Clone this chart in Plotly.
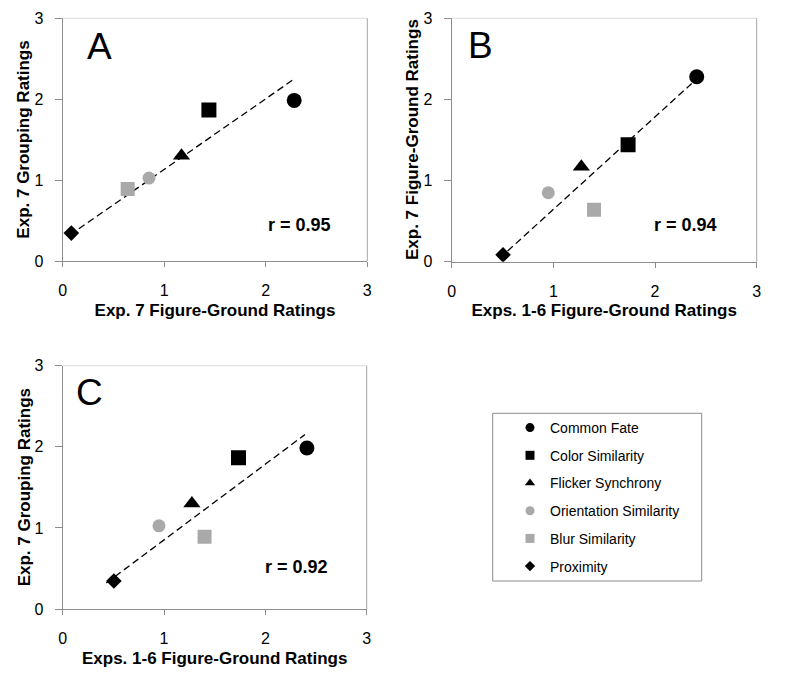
import plotly.graph_objects as go

# ---- data ----
categories = ["Common Fate", "Color Similarity", "Flicker Synchrony",
              "Orientation Similarity", "Blur Similarity", "Proximity"]
exp7_fg = [2.28, 1.44, 1.17, 0.85, 0.64, 0.085]          # Exp. 7 Figure-Ground Ratings
exps16_fg = [2.41, 1.735, 1.275, 0.95, 1.40, 0.505]      # Exps. 1-6 Figure-Ground Ratings
exp7_group = [1.985, 1.865, 1.30, 1.025, 0.89, 0.345]    # Exp. 7 Grouping Ratings

fit_a_x = [0.07, 2.28]
fit_a_y = [0.32, 2.25]
fit_b_x = [0.47, 2.39]
fit_b_y = [0.04, 2.23]
fit_c_x = [0.43, 2.39]
fit_c_y = [0.32, 2.15]

r_labels = ["r = 0.95", "r = 0.94", "r = 0.92"]
panel_labels = ["A", "B", "C"]
tick_vals = [0, 1, 2, 3]

# ---- styles ----
symbols = ["circle", "square", "triangle-up", "circle", "square", "diamond"]
colors = ["#000000", "#000000", "#000000", "#a9a9a9", "#a9a9a9", "#000000"]
sizes = [15, 15, 15, 13, 14, 12]
legend_sizes = [9, 9, 9, 9, 9, 8]
FONT = "Arial, Liberation Sans, sans-serif"
AX = "#8c8c8c"

# the page body adds an 8px margin; the figure is sized so that the
# final picture (800x680) lines up with the reference pixel positions
OFF = 8
W, H = 800 - OFF, 680 - OFF


def px_x(p):
    return (p - OFF) / W


def px_y(p):
    return 1 - (p - OFF) / H


fig = go.Figure()

panels = [
    ("x", "y", exp7_fg, exp7_group, fit_a_x, fit_a_y),
    ("x2", "y2", exps16_fg, exp7_fg, fit_b_x, fit_b_y),
    ("x3", "y3", exps16_fg, exp7_group, fit_c_x, fit_c_y),
]

for xa, ya, xs, ys, fx, fy in panels:
    fig.add_trace(go.Scatter(x=fx, y=fy, mode="lines", xaxis=xa, yaxis=ya,
                             line=dict(color="#000000", width=1.3, dash="7px,4px"),
                             showlegend=False, hoverinfo="skip"))
    for i, name in enumerate(categories):
        fig.add_trace(go.Scatter(x=[xs[i]], y=[ys[i]], mode="markers", xaxis=xa, yaxis=ya,
                                 name=name, showlegend=False,
                                 marker=dict(symbol=symbols[i], color=colors[i], size=sizes[i],
                                             line=dict(width=0))))

# legend entries
for i, name in enumerate(categories):
    fig.add_trace(go.Scatter(x=[None], y=[None], mode="markers", name=name,
                             legendgroup=name, showlegend=True,
                             marker=dict(symbol=symbols[i], color=colors[i], size=legend_sizes[i])))

domains = {
    "A": dict(x=[px_x(62.7), px_x(367.3)], y=[px_y(261), px_y(18.3)]),
    "B": dict(x=[px_x(451.7), px_x(756.7)], y=[px_y(261.7), px_y(18.3)]),
    "C": dict(x=[px_x(62.7), px_x(366.7)], y=[px_y(609), px_y(365.7)]),
}
titles = {
    "A": ("Exp. 7 Figure-Ground Ratings", "Exp. 7 Grouping Ratings"),
    "B": ("Exps. 1-6 Figure-Ground Ratings", "Exp. 7 Figure-Ground Ratings"),
    "C": ("Exps. 1-6 Figure-Ground Ratings", "Exp. 7 Grouping Ratings"),
}
ytitle_x = {"A": 24, "B": 413, "C": 24}
axis_names = {"A": ("xaxis", "yaxis", "y", "x"), "B": ("xaxis2", "yaxis2", "y2", "x2"),
              "C": ("xaxis3", "yaxis3", "y3", "x3")}

layout_axes = {}
annotations = []
for key in ["A", "B", "C"]:
    xn, yn, yanchor, xanchor = axis_names[key]
    xt, yt = titles[key]
    layout_axes[xn] = dict(
        domain=domains[key]["x"], anchor=yanchor, range=[0, 3], tickvals=tick_vals,
        showgrid=False, zeroline=False, showline=True, linecolor=AX, linewidth=1,
        ticks="outside", ticklen=5, tickcolor=AX, tickwidth=1, ticklabelstandoff=10,
        tickfont=dict(family=FONT, size=16, color="#000"),
        title=dict(text="<b>" + xt + "</b>", standoff=5,
                   font=dict(family=FONT, size=17, color="#000")),
        automargin=False, fixedrange=True)
    layout_axes[yn] = dict(
        domain=domains[key]["y"], anchor=xanchor, range=[0, 3], tickvals=tick_vals,
        showgrid=False, zeroline=False, showline=True, linecolor=AX, linewidth=1,
        ticks="outside", ticklen=7, tickcolor=AX, tickwidth=1, ticklabelstandoff=8,
        tickfont=dict(family=FONT, size=16, color="#000"),
        automargin=False, fixedrange=True)
    # y-axis title placed as rotated text at the reference position
    yd = domains[key]["y"]
    annotations.append(dict(x=px_x(ytitle_x[key]), y=(yd[0] + yd[1]) / 2, xref="paper",
                            yref="paper", text="<b>" + yt + "</b>", textangle=-90,
                            showarrow=False, xanchor="center", yanchor="middle",
                            font=dict(family=FONT, size=17, color="#000")))

shapes = []
for key, (xr, yr) in {"A": ("x", "y"), "B": ("x2", "y2"), "C": ("x3", "y3")}.items():
    # light top border and grey right border
    shapes.append(dict(type="line", xref=f"{xr} domain", yref=f"{yr} domain",
                       x0=0, x1=1, y0=1, y1=1, line=dict(color="#dcdcdc", width=1)))
    shapes.append(dict(type="line", xref=f"{xr} domain", yref=f"{yr} domain",
                       x0=1, x1=1, y0=0, y1=1, line=dict(color="#a6a6a6", width=1)))
# legend box
shapes.append(dict(type="rect", xref="paper", yref="paper",
                   x0=px_x(492.7), x1=px_x(701.7), y0=px_y(581), y1=px_y(413.3),
                   line=dict(color=AX, width=1), fillcolor="rgba(0,0,0,0)"))

letter_pos = [(0.36, 2.65), (0.28, 2.67), (0.265, 2.67)]
r_pos = [(2.336, 0.445), (2.30, 0.45), (2.31, 0.52)]
for (xr, yr), lab, lp, rl, rp in zip([("x", "y"), ("x2", "y2"), ("x3", "y3")],
                                      panel_labels, letter_pos, r_labels, r_pos):
    annotations.append(dict(x=lp[0], y=lp[1], xref=xr, yref=yr, text=lab, showarrow=False,
                            font=dict(family=FONT, size=37, color="#000")))
    annotations.append(dict(x=rp[0], y=rp[1], xref=xr, yref=yr, text="<b>" + rl + "</b>",
                            showarrow=False, font=dict(family=FONT, size=18, color="#000")))

fig.update_layout(
    width=W, height=H,
    margin=dict(l=0, r=0, t=0, b=0),
    paper_bgcolor="white", plot_bgcolor="white",
    font=dict(family=FONT, color="#000"),
    showlegend=True,
    legend=dict(x=px_x(510), y=px_y(412), xanchor="left", yanchor="top",
                traceorder="grouped", tracegroupgap=6.5, borderwidth=0,
                bgcolor="rgba(0,0,0,0)", font=dict(family=FONT, size=14, color="#000")),
    shapes=shapes, annotations=annotations,
    **layout_axes,
)

fig.write_html("out.html")
